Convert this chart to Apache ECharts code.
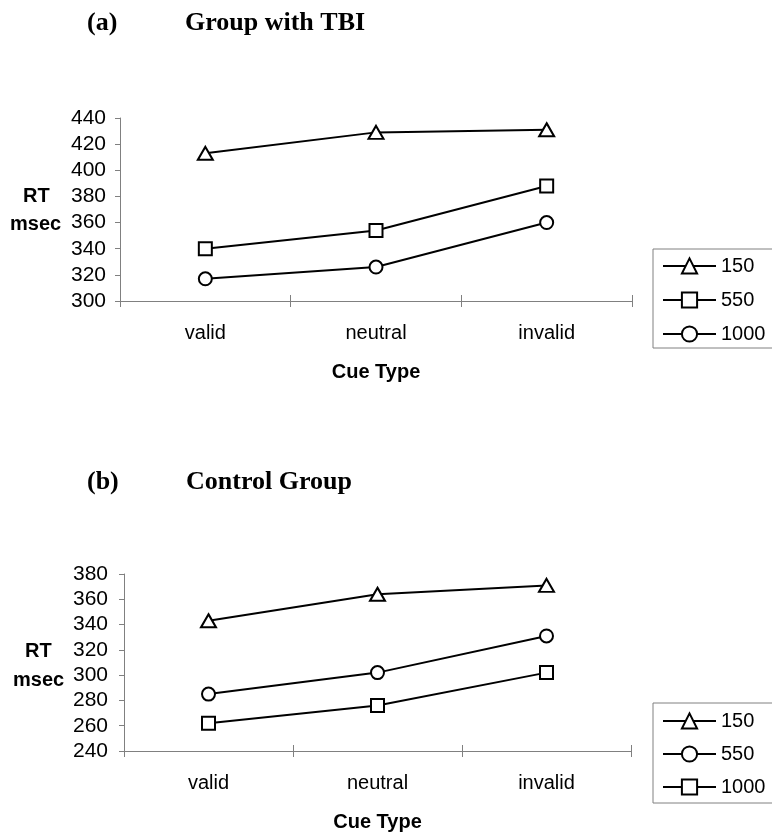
<!DOCTYPE html>
<html><head><meta charset="utf-8">
<script src="https://cdn.jsdelivr.net/npm/echarts@6/dist/echarts.min.js"></script>
<style>html,body{margin:0;padding:0;background:#fff}#c{width:772px;height:833px}</style>
</head><body><div id="c"></div>
<script>
// ---- data ----
const categories = ['valid', 'neutral', 'invalid'];
const seriesLabels = ['150', '550', '1000'];
// (a) Group with TBI
const tbi150 = [413, 429, 431];
const tbi550 = [340, 354, 388];
const tbi1000 = [317, 326, 360];
// (b) Control Group
const ctl150 = [343, 364, 371];
const ctl550 = [285, 302, 331];
const ctl1000 = [262, 276, 302];
// axis ranges / tick step
const yMinA = 300, yMaxA = 440;
const yMinB = 240, yMaxB = 380;
const yStep = 20;
const titleA = ['(a)', 'Group with TBI'];
const titleB = ['(b)', 'Control Group'];
const xAxisTitle = 'Cue Type';
const yAxisTitle = ['RT', 'msec'];

// ---- chart ----
const SANS = '"Liberation Sans", Arial, sans-serif';
const SERIF = '"Liberation Serif", "Times New Roman", serif';
const GRAY = '#808080';

function xAxes(gi) {
  return [{
    gridIndex: gi, type: 'category', data: categories, boundaryGap: true,
    axisLine: { lineStyle: { color: GRAY, width: 1 } },
    axisTick: { show: true, length: 6, lineStyle: { color: GRAY, width: 1 } },
    axisLabel: { color: '#000', fontSize: 20, fontFamily: SANS, margin: 22 },
    splitLine: { show: false },
    name: xAxisTitle, nameLocation: 'middle', nameGap: 61,
    nameTextStyle: { color: '#000', fontSize: 20, fontWeight: 'bold', fontFamily: SANS }
  }, {
    gridIndex: gi, type: 'category', data: categories, boundaryGap: true, position: 'bottom',
    axisLine: { show: false },
    axisTick: { show: true, inside: true, length: 6, lineStyle: { color: GRAY, width: 1 } },
    axisLabel: { show: false }, splitLine: { show: false }
  }];
}
function yAxis(gi, min, max, margin) {
  return {
    gridIndex: gi, type: 'value', min: min, max: max, interval: yStep,
    axisLine: { show: true, lineStyle: { color: GRAY, width: 1 } },
    axisTick: { show: true, length: 5, lineStyle: { color: GRAY, width: 1 } },
    axisLabel: { color: '#000', fontSize: 21, fontFamily: SANS, margin: margin },
    splitLine: { show: false }
  };
}
function lineSeries(name, data, symbol, xi, yi) {
  return {
    type: 'line', name: name, data: data, xAxisIndex: xi, yAxisIndex: yi,
    symbol: symbol, symbolSize: symbol === 'triangle' ? [15, 13] : 13,
    lineStyle: { color: '#000', width: 2 },
    itemStyle: { color: '#fff', borderColor: '#000', borderWidth: 2 },
    emphasis: { disabled: true }, animation: false, z: 3
  };
}
const namesA = seriesLabels.map(s => '(a) ' + s);
const namesB = seriesLabels.map(s => '(b) ' + s);

function legend(names, top, gap, padding) {
  return {
    orient: 'vertical', left: 653, top: top, data: names,
    formatter: n => n.slice(4),
    borderColor: GRAY, borderWidth: 1, padding: padding,
    itemWidth: 53, itemHeight: 19, itemGap: gap,
    itemStyle: { borderWidth: 2, borderColor: '#000', color: '#fff' },
    lineStyle: { width: 2, color: '#000' },
    textStyle: { color: '#000', fontSize: 20, fontFamily: SANS },
    selectedMode: false
  };
}
function txt(x, y, s, font) {
  return { type: 'text', left: x, top: y, style: { text: s, font: font, fill: '#000' } };
}

const chart = echarts.init(document.getElementById('c'), null, { renderer: 'canvas' });
chart.setOption({
  animation: false,
  grid: [
    { left: 120, top: 118, width: 512, height: 183 },
    { left: 124, top: 574, width: 507, height: 182 }
  ],
  xAxis: [...xAxes(0), ...xAxes(1)],
  yAxis: [yAxis(0, yMinA, yMaxA, 14), yAxis(1, yMinB, yMaxB, 16)],
  series: [
    lineSeries(namesA[0], tbi150, 'triangle', 0, 0),
    lineSeries(namesA[1], tbi550, 'rect', 0, 0),
    lineSeries(namesA[2], tbi1000, 'circle', 0, 0),
    lineSeries(namesB[0], ctl150, 'triangle', 2, 1),
    lineSeries(namesB[1], ctl550, 'circle', 2, 1),
    lineSeries(namesB[2], ctl1000, 'rect', 2, 1)
  ],
  legend: [legend(namesA, 249, 14, [7, 8, 4, 9]), legend(namesB, 703, 13, [8, 8, 6, 9])],
  graphic: [
    txt(87, 10, titleA[0], 'bold 26px ' + SERIF),
    txt(185, 10, titleA[1], 'bold 26px ' + SERIF),
    txt(87, 469, titleB[0], 'bold 26px ' + SERIF),
    txt(186, 469, titleB[1], 'bold 26px ' + SERIF),
    txt(23, 186, yAxisTitle[0], 'bold 20px ' + SANS),
    txt(10, 214, yAxisTitle[1], 'bold 20px ' + SANS),
    txt(25, 641, yAxisTitle[0], 'bold 20px ' + SANS),
    txt(13, 670, yAxisTitle[1], 'bold 20px ' + SANS)
  ]
});
</script></body></html>
